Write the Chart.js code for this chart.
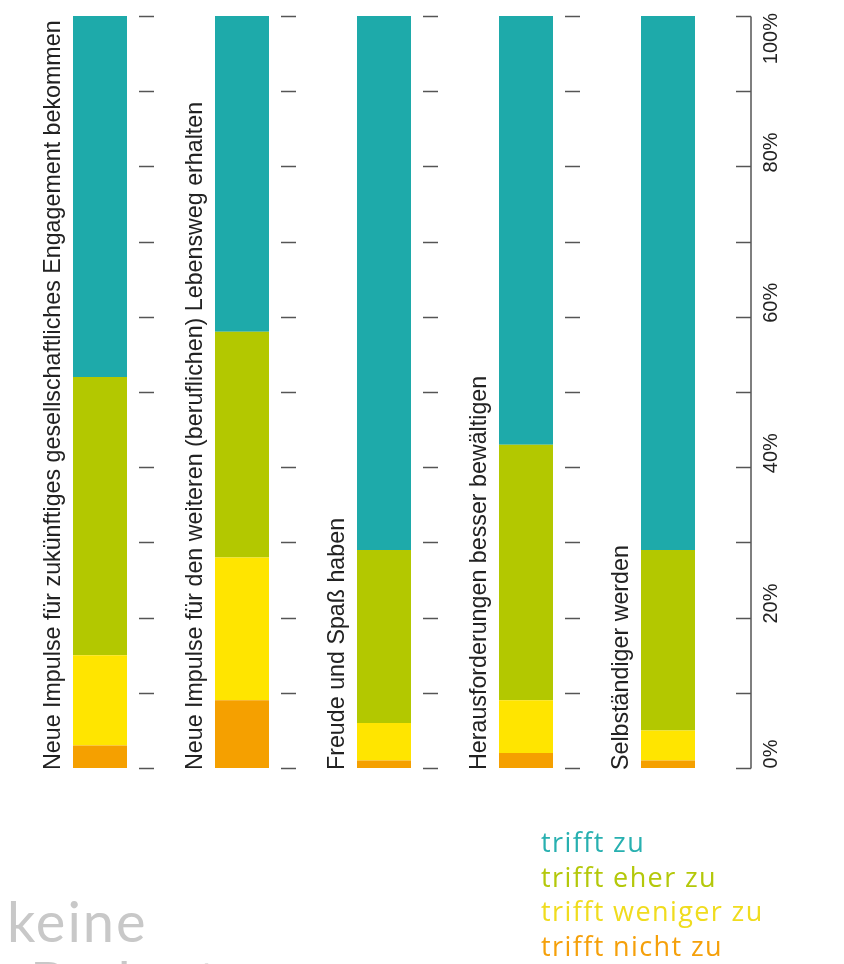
<!DOCTYPE html>
<html lang="de">
<head>
<meta charset="utf-8">
<title>Motive</title>
<script src="https://cdn.jsdelivr.net/npm/chart.js@4.4.1/dist/chart.umd.min.js"></script>
<style>
  html, body { margin: 0; padding: 0; background: #fff; }
  .wrap { position: relative; width: 844px; height: 964px; overflow: hidden; }
  #chart { position: absolute; left: 0; top: 0; }
  .legend { position: absolute; left: 541px; top: 825px; font-family: 'Open Sans', Lato, sans-serif; font-size: 27px; line-height: 34.5px; letter-spacing: 1.4px; }
  .legend div { white-space: nowrap; }
  .note { position: absolute; left: 7px; font-family: Lato, 'Open Sans', sans-serif; font-size: 56px; line-height: 52px; color: #c8c8c8; letter-spacing: 2px; white-space: nowrap; }
</style>
</head>
<body>
<div class="wrap">
  <canvas id="chart" width="844" height="964"></canvas>
  <div class="note" style="top:895px">keine</div>
  <div class="note" style="top:955px; left:30px">Bedeutung</div>
  <div class="legend" id="legend"></div>
</div>
<script>
// --- data (percent of respondents) ---
const categories = [
    'Neue Impulse für zukünftiges gesellschaftliches Engagement bekommen',
    'Neue Impulse für den weiteren (beruflichen) Lebensweg erhalten',
    'Freude und Spaß haben',
    'Herausforderungen besser bewältigen',
    'Selbständiger werden'
];
const seriesNames = ['trifft nicht zu', 'trifft weniger zu', 'trifft eher zu', 'trifft zu'];
const trifftNichtZu   = [3, 9, 1, 2, 1];
const trifftWenigerZu = [12, 19, 5, 7, 4];
const trifftEherZu    = [37, 30, 23, 34, 24];
const trifftZu        = [48, 42, 71, 57, 71];
const tickValues = [0, 10, 20, 30, 40, 50, 60, 70, 80, 90, 100];
const tickLabels = ['0%', '20%', '40%', '60%', '80%', '100%'];

const barColors = ['#f5a000', '#ffe500', '#b3c800', '#1eaaaa'];
const legendColors = ['#f5a00a', '#f0dc1e', '#b4c80a', '#28b0b0'];

// legend, top item first
const legendEl = document.getElementById('legend');
[3, 2, 1, 0].forEach(i => {
    const d = document.createElement('div');
    d.textContent = seriesNames[i];
    d.style.color = legendColors[i];
    legendEl.appendChild(d);
});

const decor = {
    id: 'decor',
    afterDraw(chart) {
        const { ctx, chartArea, scales: { x, y } } = chart;
        ctx.save();

        // category labels, rotated, left of each bar
        ctx.fillStyle = '#222';
        ctx.font = "23.25px 'Liberation Sans', Arial, sans-serif";
        ctx.textAlign = 'left';
        ctx.textBaseline = 'alphabetic';
        categories.forEach((c, i) => {
            ctx.save();
            ctx.translate(x.getPixelForValue(i) - 40, y.getPixelForValue(0) + 2);
            ctx.rotate(-Math.PI / 2);
            ctx.fillText(c, 0, 0);
            ctx.restore();
        });

        // short tick dashes right of bars 1-4
        ctx.strokeStyle = '#555';
        ctx.lineWidth = 1.5;
        for (let i = 0; i < categories.length - 1; i++) {
            const cx = x.getPixelForValue(i);
            tickValues.forEach(v => {
                const py = Math.round(y.getPixelForValue(v)) + 0.5;
                ctx.beginPath();
                ctx.moveTo(cx + 39, py);
                ctx.lineTo(cx + 54, py);
                ctx.stroke();
            });
        }

        // right axis
        const ax = chartArea.right + 12;
        ctx.beginPath();
        ctx.moveTo(ax, Math.round(y.getPixelForValue(100)) + 0.5);
        ctx.lineTo(ax, Math.round(y.getPixelForValue(0)) + 0.5);
        ctx.stroke();
        tickValues.forEach(v => {
            const py = Math.round(y.getPixelForValue(v)) + 0.5;
            ctx.beginPath();
            ctx.moveTo(ax - 15, py);
            ctx.lineTo(ax, py);
            ctx.stroke();
        });

        // axis labels, rotated
        ctx.fillStyle = '#222';
        ctx.font = "20px 'Liberation Sans', Arial, sans-serif";
        ctx.textAlign = 'center';
        ctx.textBaseline = 'alphabetic';
        tickLabels.forEach((t, k) => {
            const w = ctx.measureText(t).width;
            let cy = y.getPixelForValue(k * 20) - 14;
            cy = Math.max(cy, 13 + w / 2);
            ctx.save();
            ctx.translate(ax + 26, cy);
            ctx.rotate(-Math.PI / 2);
            ctx.fillText(t, 0, 0);
            ctx.restore();
        });

        ctx.restore();
    }
};

new Chart(document.getElementById('chart'), {
    type: 'bar',
    data: {
        labels: categories,
        datasets: [trifftNichtZu, trifftWenigerZu, trifftEherZu, trifftZu].map((d, i) => ({
            label: seriesNames[i],
            data: d,
            backgroundColor: barColors[i],
            borderWidth: 0,
            barPercentage: 1,
            categoryPercentage: 54 / 142
        }))
    },
    options: {
        responsive: false,
        animation: false,
        layout: { padding: { left: 29, right: 105, top: 16, bottom: 196 } },
        plugins: { legend: { display: false }, tooltip: { enabled: false } },
        scales: {
            x: { stacked: true, display: false },
            y: { stacked: true, display: false, min: 0, max: 100 }
        }
    },
    plugins: [decor]
});
</script>
</body>
</html>
